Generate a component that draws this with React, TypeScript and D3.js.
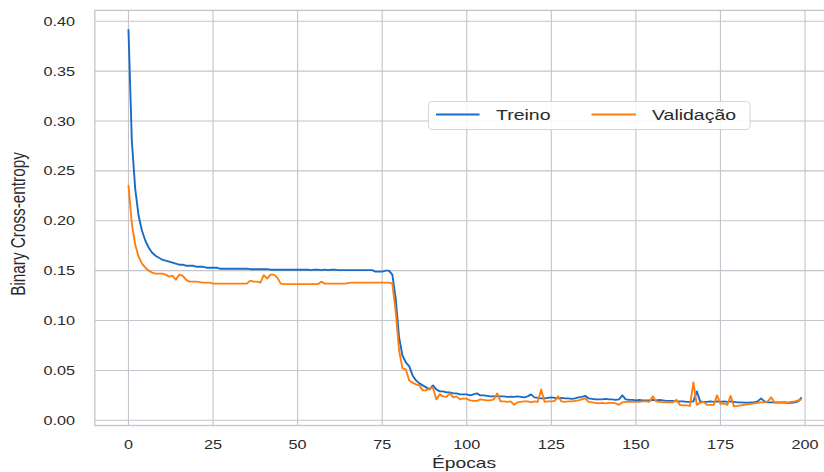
import React from 'react';
import * as d3 from 'd3';

// loss per epoch
const treino = [
  0.392, 0.280, 0.232, 0.205, 0.190, 0.180, 0.173, 0.168, 0.165, 0.163,
  0.161, 0.160, 0.159, 0.158, 0.157, 0.156, 0.156, 0.155, 0.155, 0.155,
  0.154, 0.154, 0.154, 0.153, 0.153, 0.153, 0.153, 0.152, 0.152, 0.152,
  0.152, 0.152, 0.152, 0.152, 0.152, 0.152, 0.1515, 0.1515, 0.1515, 0.1515,
  0.1515, 0.1515, 0.151, 0.151, 0.151, 0.151, 0.151, 0.151, 0.151, 0.151,
  0.151, 0.151, 0.151, 0.151, 0.1505, 0.151, 0.151, 0.1505, 0.151, 0.1505,
  0.151, 0.151, 0.1505, 0.1505, 0.1505, 0.1505, 0.1505, 0.1505, 0.1505, 0.1505,
  0.1505, 0.1505, 0.1505, 0.149, 0.149, 0.149, 0.150, 0.150, 0.146, 0.122,
  0.083, 0.065, 0.058, 0.054, 0.045, 0.040, 0.037, 0.035, 0.033, 0.031,
  0.035, 0.031, 0.029, 0.029, 0.028, 0.028, 0.027, 0.027, 0.026, 0.026,
  0.026, 0.025, 0.026, 0.027, 0.025, 0.025, 0.0245, 0.024, 0.024, 0.0243,
  0.024, 0.024, 0.0235, 0.0237, 0.0235, 0.024, 0.0235, 0.023, 0.024, 0.026,
  0.023, 0.0225, 0.022, 0.022, 0.0225, 0.023, 0.0225, 0.022, 0.0225, 0.022,
  0.022, 0.0215, 0.022, 0.023, 0.0235, 0.0245, 0.022, 0.0215, 0.021, 0.021,
  0.021, 0.0215, 0.021, 0.021, 0.0205, 0.021, 0.025, 0.021, 0.0205, 0.0205,
  0.020, 0.0205, 0.020, 0.020, 0.020, 0.0205, 0.020, 0.0205, 0.020, 0.0195,
  0.0195, 0.0195, 0.019, 0.019, 0.019, 0.0185, 0.0185, 0.019, 0.029, 0.019,
  0.0185, 0.0185, 0.019, 0.0185, 0.019, 0.0185, 0.019, 0.0185, 0.019, 0.0185,
  0.018, 0.018, 0.0177, 0.0177, 0.0178, 0.018, 0.019, 0.022, 0.019, 0.018,
  0.018, 0.018, 0.0178, 0.0178, 0.0178, 0.0175, 0.0175, 0.018, 0.019, 0.023,
];

const validacao = [
  0.236, 0.197, 0.176, 0.164, 0.157, 0.153, 0.150, 0.148, 0.147, 0.147,
  0.147, 0.146, 0.144, 0.145, 0.141, 0.146, 0.145, 0.141, 0.139, 0.139,
  0.139, 0.1385, 0.138, 0.138, 0.138, 0.137, 0.137, 0.137, 0.137, 0.137,
  0.137, 0.137, 0.137, 0.137, 0.137, 0.137, 0.140, 0.139, 0.139, 0.138,
  0.1455, 0.142, 0.146, 0.146, 0.143, 0.137, 0.1365, 0.1365, 0.1365, 0.1365,
  0.1365, 0.1365, 0.1365, 0.1365, 0.1365, 0.1365, 0.1365, 0.139, 0.137, 0.137,
  0.137, 0.137, 0.137, 0.137, 0.137, 0.1375, 0.138, 0.138, 0.138, 0.138,
  0.138, 0.138, 0.138, 0.138, 0.138, 0.138, 0.138, 0.138, 0.137, 0.109,
  0.070, 0.052, 0.051, 0.040, 0.0377, 0.036, 0.035, 0.030, 0.030, 0.032,
  0.033, 0.021, 0.026, 0.024, 0.0235, 0.027, 0.023, 0.024, 0.021, 0.022,
  0.0215, 0.020, 0.0195, 0.0195, 0.021, 0.0205, 0.020, 0.020, 0.021, 0.027,
  0.019, 0.019, 0.0185, 0.019, 0.0155, 0.018, 0.0185, 0.019, 0.019, 0.018,
  0.019, 0.0185, 0.031, 0.0185, 0.019, 0.019, 0.0195, 0.024, 0.019, 0.0185,
  0.019, 0.019, 0.0195, 0.020, 0.021, 0.022, 0.0185, 0.018, 0.0175, 0.017,
  0.0175, 0.017, 0.0175, 0.0175, 0.017, 0.0155, 0.018, 0.0185, 0.0185, 0.0185,
  0.0185, 0.0185, 0.019, 0.019, 0.0185, 0.024, 0.019, 0.0185, 0.018, 0.018,
  0.018, 0.018, 0.0205, 0.0155, 0.015, 0.015, 0.0145, 0.038, 0.0155, 0.0175,
  0.0185, 0.0155, 0.0155, 0.0155, 0.025, 0.0165, 0.017, 0.0155, 0.0245, 0.014,
  0.0145, 0.015, 0.0155, 0.016, 0.0165, 0.017, 0.0175, 0.018, 0.018, 0.019,
  0.023, 0.0175, 0.018, 0.018, 0.018, 0.018, 0.0185, 0.019, 0.020, 0.021,
];

const xTicks = [0, 25, 50, 75, 100, 125, 150, 175, 200];
const yTicks = [0.0, 0.05, 0.1, 0.15, 0.2, 0.25, 0.3, 0.35, 0.4];
const seriesNames = ['Treino', 'Validação'];

const W = 824;
const H = 472;
const SX = 1.3; // the reference is stretched sideways
const FONT = '"Liberation Sans", Arial, Helvetica, sans-serif';
const GRID = '#c4c4cc';
const TEXT = '#2a2a2a';
const BLUE = '#1a6bc6';
const ORANGE = '#ff7f0e';

const App: React.FC = () => {
  const x = d3.scaleLinear().domain([-9.95, 208.95]).range([94.8, 835.3]);
  const y = d3.scaleLinear().domain([-0.0052, 0.4109]).range([425.5, 10.4]);

  const line = d3.line<number>()
    .x((d, i) => x(i))
    .y(d => y(d));

  const [x0, x1] = x.range();
  const [y0, y1] = y.range();

  const txt = (tx: number, ty: number, s: string, size: number, anchor: string, extra = '') => (
    <text
      transform={`translate(${tx},${ty}) scale(${SX},1)${extra}`}
      fontSize={size}
      textAnchor={anchor}
      fill={TEXT}
      fontFamily={FONT}
    >{s}</text>
  );

  return (
    <svg width={W} height={H} style={{ position: 'absolute', left: 0, top: 0, background: '#fff' }}>
      <defs>
        <clipPath id="plot">
          <rect x={x0} y={y1} width={x1 - x0} height={y0 - y1} />
        </clipPath>
      </defs>

      {/* grid */}
      {xTicks.map(t => (
        <line key={'gx' + t} x1={x(t)} x2={x(t)} y1={y1} y2={y0} stroke={GRID} strokeWidth={1.1} />
      ))}
      {yTicks.map(t => (
        <line key={'gy' + t} x1={x0} x2={x1} y1={y(t)} y2={y(t)} stroke={GRID} strokeWidth={1.1} />
      ))}
      <rect x={x0} y={y1} width={x1 - x0} height={y0 - y1} fill="none" stroke={GRID} strokeWidth={1.3} />

      {/* series */}
      <g clipPath="url(#plot)" fill="none" strokeWidth={1.9} strokeLinejoin="round">
        <path d={line(treino) || ''} stroke={BLUE} />
        <path d={line(validacao) || ''} stroke={ORANGE} />
      </g>

      {/* tick labels */}
      {yTicks.map(t => (
        <g key={'ty' + t}>{txt(75, y(t) + 4.5, d3.format('.2f')(t), 12.5, 'end')}</g>
      ))}
      {xTicks.map(t => (
        <g key={'tx' + t}>{txt(x(t), 448.5, String(t), 12.5, 'middle')}</g>
      ))}

      {/* axis labels */}
      {txt(464, 468, 'Épocas', 14.8, 'middle')}
      {txt(25, 224, 'Binary Cross-entropy', 15.3, 'middle', ' rotate(-90)')}

      {/* legend */}
      <rect x={428.5} y={101.5} width={321.5} height={28} rx={3.5} fill="#fff" fillOpacity={0.85} stroke="#d6d6d6" strokeWidth={1} />
      <line x1={436} x2={479.5} y1={114.5} y2={114.5} stroke={BLUE} strokeWidth={1.9} />
      {txt(496, 120, seriesNames[0], 15, 'start')}
      <line x1={591.5} x2={636} y1={114.5} y2={114.5} stroke={ORANGE} strokeWidth={1.9} />
      {txt(652, 120, seriesNames[1], 15, 'start')}
    </svg>
  );
};

export default App;
